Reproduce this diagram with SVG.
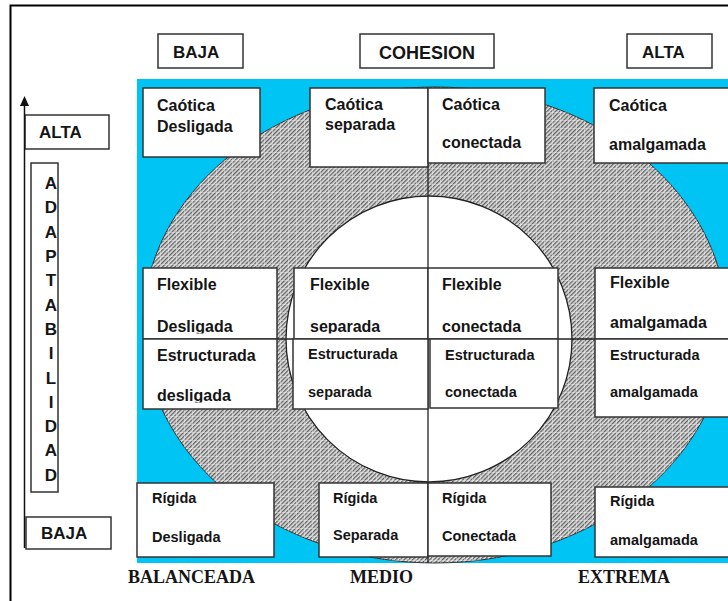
<svg xmlns="http://www.w3.org/2000/svg" width="728" height="601" viewBox="0 0 728 601">
<defs>
<style>
.box{fill:#fff;stroke:#333;stroke-width:1.5}
.t{font-family:"Liberation Sans",Arial,sans-serif;font-weight:bold;fill:#151515;font-size:16px}
.s{font-size:14.5px}
.h{font-size:17px}
.c{font-size:18px}
.b{font-family:"Liberation Serif","Times New Roman",serif;font-weight:bold;fill:#151515;font-size:18px}
.ln{stroke:#222;stroke-width:1.3;fill:none}
</style>
<pattern id="hatch" width="3" height="4" patternUnits="userSpaceOnUse" patternTransform="rotate(45)">
<rect width="3" height="4" fill="#dedede"/>
<rect x="0" y="0" width="1.3" height="4" fill="#606060"/>
</pattern>
<pattern id="grid" width="8" height="8" patternUnits="userSpaceOnUse">
<path d="M0 0.5H8M0.5 0V8" stroke="#fff" stroke-width="0.8" opacity="0.45"/>
</pattern>
<clipPath id="clipFlex" clipPathUnits="userSpaceOnUse"><rect x="0" y="0" width="728" height="333.5"/></clipPath>
<clipPath id="clipEst" clipPathUnits="userSpaceOnUse"><rect x="0" y="0" width="728" height="402.5"/></clipPath>
</defs>
<rect width="728" height="601" fill="#fff"/>
<path d="M10.5 601V5.5H728" fill="none" stroke="#000" stroke-width="2"/>

<g id="background">
<rect x="137" y="79" width="600" height="484" fill="#00c4f4"/>
<ellipse cx="435" cy="325" rx="292" ry="238" fill="url(#hatch)" stroke="#333" stroke-width="1"/>
<ellipse cx="435" cy="325" rx="292" ry="238" fill="url(#grid)"/>
<circle cx="429" cy="339" r="143" fill="#fff" stroke="#222" stroke-width="1.3"/>
<line class="ln" x1="428" y1="88" x2="428" y2="563"/>
<line class="ln" x1="143" y1="339" x2="728" y2="339"/>
</g>

<g id="hdr-baja"><rect class="box" x="158" y="34" width="85" height="34"/><text class="t h" x="173" y="58">BAJA</text></g>
<g id="hdr-cohesion"><rect class="box" x="360" y="34" width="134" height="34"/><text class="t c" x="427" y="59" text-anchor="middle">COHESION</text></g>
<g id="hdr-alta"><rect class="box" x="627" y="34" width="85" height="34"/><text class="t h" x="642" y="58">ALTA</text></g>

<g id="axis-alta"><rect class="box" x="25" y="115" width="84" height="34"/><text class="t h" x="39" y="138">ALTA</text></g>
<g id="axis-adaptabilidad"><rect class="box" x="31" y="163" width="27" height="329"/>
<text class="t h" text-anchor="middle">
<tspan x="51" y="189">A</tspan><tspan x="51" y="213">D</tspan><tspan x="51" y="238">A</tspan><tspan x="51" y="262">P</tspan><tspan x="51" y="286">T</tspan><tspan x="51" y="311">A</tspan><tspan x="51" y="335">B</tspan><tspan x="51" y="359">I</tspan><tspan x="51" y="384">L</tspan><tspan x="51" y="408">I</tspan><tspan x="51" y="432">D</tspan><tspan x="51" y="456">A</tspan><tspan x="51" y="481">D</tspan>
</text></g>
<g id="axis-baja"><rect class="box" x="26" y="517" width="85" height="32"/><text class="t h" x="41" y="539">BAJA</text></g>

<g id="connectors">
<line x1="24.5" y1="104" x2="24.5" y2="548" stroke="#111" stroke-width="1.5"/>
<polygon points="24.5,96 20,106 29,106" fill="#111"/>
</g>

<g id="caotica-desligada"><rect class="box" x="143" y="88" width="117" height="69"/><text class="t" x="157" y="111">Caótica</text><text class="t" x="157" y="132">Desligada</text></g>
<g id="caotica-separada"><rect class="box" x="310" y="88" width="118" height="79"/><text class="t" x="325" y="110">Caótica</text><text class="t" x="325" y="130">separada</text></g>
<g id="caotica-conectada"><rect class="box" x="428" y="88" width="117" height="75"/><text class="t" x="442" y="110">Caótica</text><text class="t" x="442" y="148">conectada</text></g>
<g id="caotica-amalgamada"><rect class="box" x="594" y="88" width="140" height="75"/><text class="t" x="609" y="111">Caótica</text><text class="t" x="609" y="150">amalgamada</text></g>

<g id="flexible-desligada"><rect class="box" x="143" y="268" width="134" height="71"/><text class="t" x="157" y="290">Flexible</text><text class="t" x="157" y="332" clip-path="url(#clipFlex)">Desligada</text></g>
<g id="flexible-separada"><rect class="box" x="294" y="268" width="134" height="71"/><text class="t" x="310" y="290">Flexible</text><text class="t" x="310" y="332" clip-path="url(#clipFlex)">separada</text></g>
<g id="flexible-conectada"><rect class="box" x="428" y="268" width="130" height="71"/><text class="t" x="442" y="290">Flexible</text><text class="t" x="442" y="332">conectada</text></g>
<g id="flexible-amalgamada"><rect class="box" x="595" y="268" width="140" height="71"/><text class="t" x="610" y="288">Flexible</text><text class="t" x="610" y="328">amalgamada</text></g>

<g id="estructurada-desligada"><rect class="box" x="143" y="339" width="134" height="70"/><text class="t" x="157" y="361">Estructurada</text><text class="t" x="157" y="401" clip-path="url(#clipEst)">desligada</text></g>
<g id="estructurada-separada"><rect class="box" x="293" y="339" width="135" height="70"/><text class="t s" x="308" y="359">Estructurada</text><text class="t s" x="308" y="397">separada</text></g>
<g id="estructurada-conectada"><rect class="box" x="430" y="339" width="128" height="69"/><text class="t s" x="445" y="360">Estructurada</text><text class="t s" x="445" y="397">conectada</text></g>
<g id="estructurada-amalgamada"><rect class="box" x="595" y="339" width="140" height="78"/><text class="t s" x="610" y="360">Estructurada</text><text class="t s" x="610" y="397">amalgamada</text></g>

<g id="rigida-desligada"><rect class="box" x="137" y="483" width="137" height="74"/><text class="t s" x="152" y="503">Rígida</text><text class="t s" x="152" y="542">Desligada</text></g>
<g id="rigida-separada"><rect class="box" x="319" y="483" width="109" height="74"/><text class="t s" x="333" y="503">Rígida</text><text class="t s" x="333" y="540">Separada</text></g>
<g id="rigida-conectada"><rect class="box" x="428" y="483" width="123" height="73"/><text class="t s" x="442" y="503">Rígida</text><text class="t s" x="442" y="541">Conectada</text></g>
<g id="rigida-amalgamada"><rect class="box" x="595" y="487" width="140" height="70"/><text class="t s" x="610" y="506">Rígida</text><text class="t s" x="610" y="545">amalgamada</text></g>

<g id="bottom-labels">
<text class="b" x="128" y="583">BALANCEADA</text>
<text class="b" x="350" y="583">MEDIO</text>
<text class="b" x="578" y="583">EXTREMA</text>
</g>
</svg>
